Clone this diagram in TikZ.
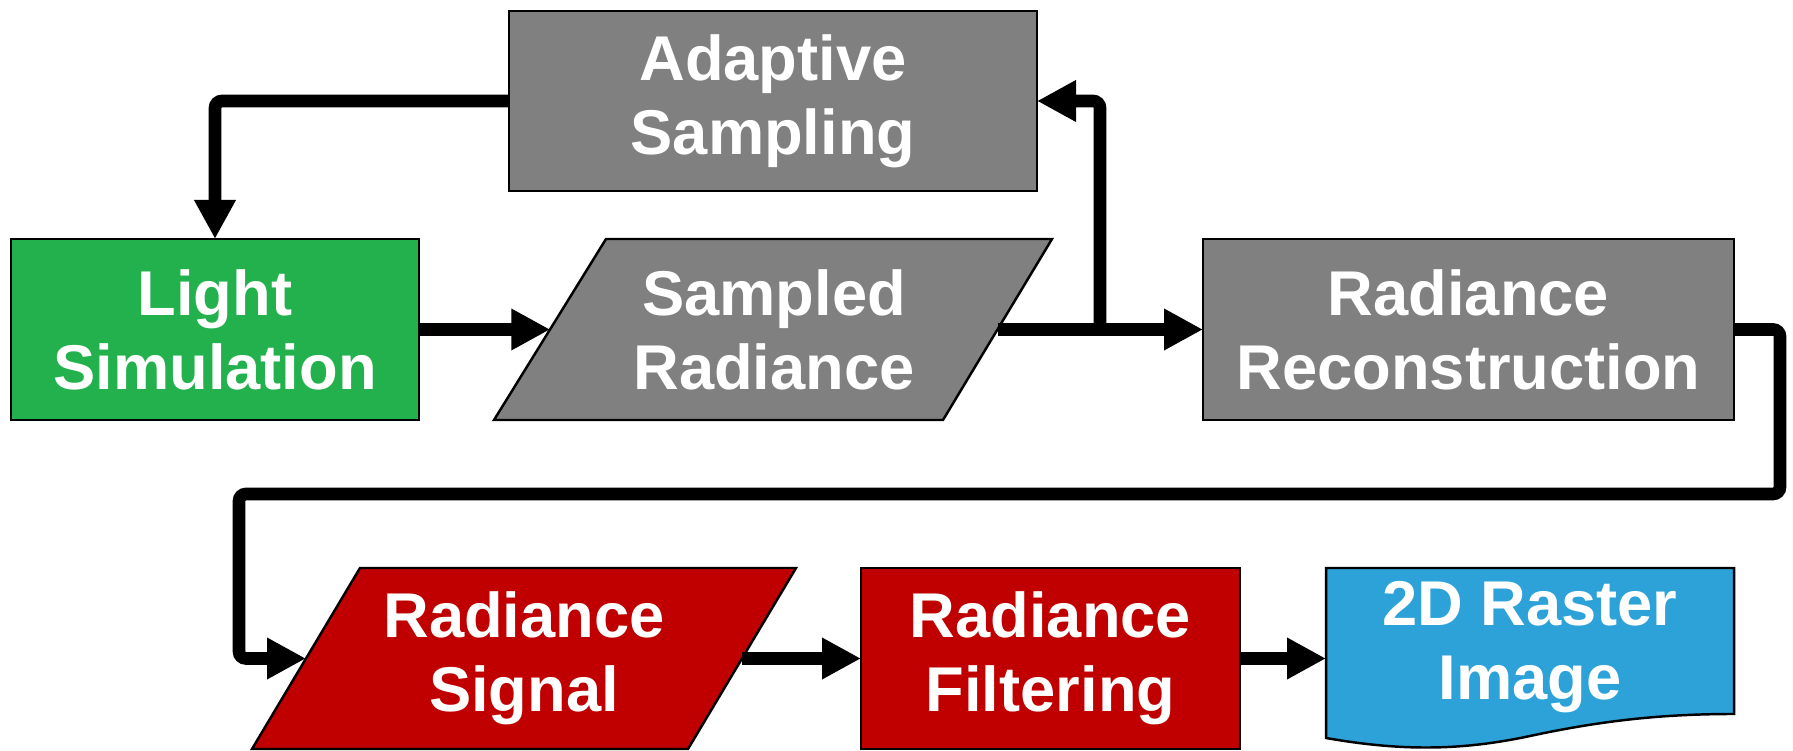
\documentclass[tikz,border=0pt]{standalone}
\usepackage{fontspec}
\setmainfont{Liberation Sans}
\usetikzlibrary{positioning,calc,arrows.meta}
\definecolor{simgreen}{HTML}{22B14C}
\definecolor{recgray}{HTML}{808080}
\definecolor{filtred}{HTML}{C00000}
\definecolor{imgblue}{HTML}{2CA2D8}

\begin{document}
\begin{tikzpicture}[
        blok/.style={draw=black, line width=0.7pt, text=white, align=center,
            inner sep=0pt, outer sep=0pt, font=\fontsize{18}{21}\selectfont\bfseries},
        rub/.style={draw=black, line width=0.7pt},
        tok/.style={line width=3.6pt, rounded corners=2pt,
            -{Triangle[length=0.39cm,width=0.39cm]}}]
        \useasboundingbox (0,0) rectangle (17.93,7.51);

        \node[blok, fill=recgray, minimum width=5.28cm, minimum height=1.80cm] (adapt) at (7.73,6.50) {Adaptive\\Sampling};
        \node[blok, fill=simgreen, minimum width=4.08cm, minimum height=1.81cm] (light) at (2.15,4.215) {Light\\Simulation};
        % parallelograms
        \draw[rub, fill=recgray] (6.06,5.12) -- (10.52,5.12) -- (9.43,3.31) -- (4.94,3.31) -- cycle;
        \node[blok, draw=none, minimum width=4.475cm, minimum height=1.81cm] (samp) at (7.74,4.215) {Sampled\\Radiance};
        \node[blok, fill=recgray, minimum width=5.31cm, minimum height=1.81cm] (recon) at (14.685,4.215) {Radiance\\Reconstruction};

        \draw[rub, fill=filtred] (3.60,1.83) -- (7.96,1.83) -- (6.88,0.02) -- (2.52,0.02) -- cycle;
        \node[blok, draw=none, minimum width=4.36cm, minimum height=1.81cm] (signal) at (5.24,0.925) {Radiance\\Signal};
        \node[blok, fill=filtred, minimum width=3.79cm, minimum height=1.81cm] (filter) at (10.505,0.925) {Radiance\\Filtering};
        % document shape
        \draw[rub, fill=imgblue] (13.26,1.83) -- (17.34,1.83) -- (17.34,0.37)
            .. controls (16.6,0.37) and (16.0,0.30) .. (15.3,0.15)
            .. controls (14.6,0.0) and (14.0,0.0) .. (13.26,0.13) -- cycle;
        \node[blok, draw=none, minimum width=4.08cm, minimum height=1.58cm] (raster) at (15.30,1.04) {2D Raster\\Image};

        \coordinate (split) at (11.0,4.215);
        \coordinate (turnR) at (17.80,2.57);
        \coordinate (turnL) at (2.39,2.57);

        \draw[tok] (adapt.west) -| (light.north);
        \draw[tok] (light.east) -- (samp.west);
        \draw[tok] (samp.east) -- (recon.west);
        \draw[tok] (split) |- (adapt.east);
        \draw[tok] (recon.east) -| (turnR) -- (turnL) |- (signal.west);
        \draw[tok] (signal.east) -- (filter.west);
        \draw[tok] (filter.east) -- (filter.east -| raster.west);
\end{tikzpicture}
\end{document}
